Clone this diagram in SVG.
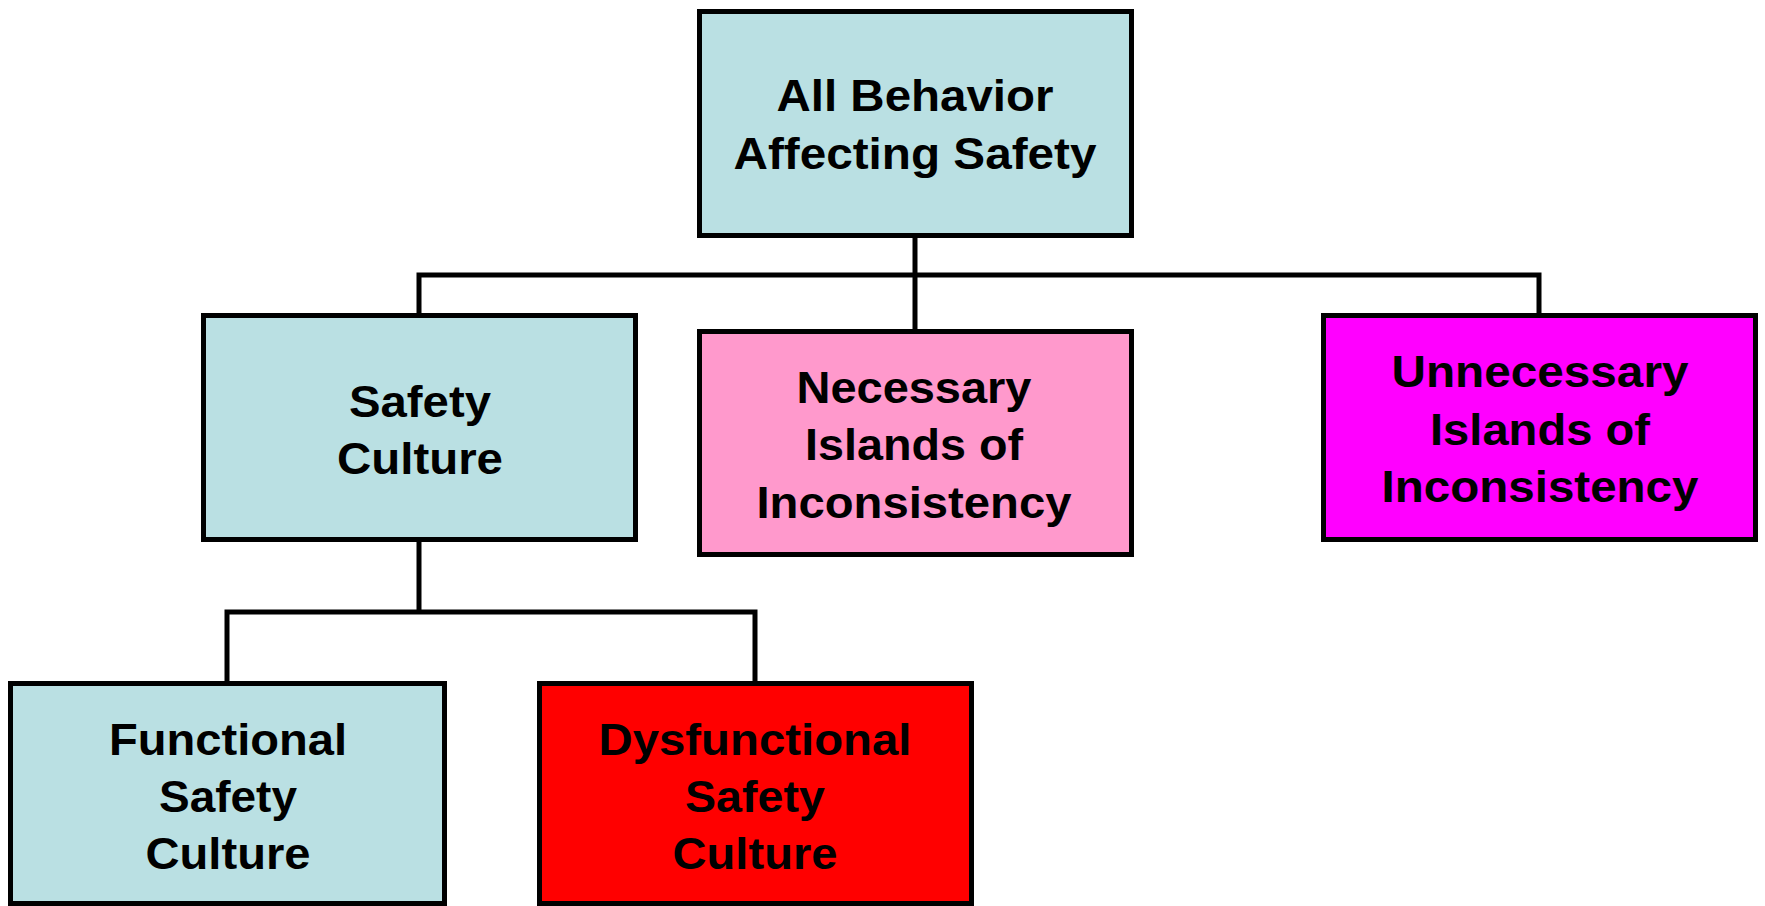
<svg xmlns="http://www.w3.org/2000/svg" width="1765" height="906" viewBox="0 0 1765 906">
  <style>
    .box { stroke: #000; stroke-width: 5; }
    .blue { fill: #BAE0E3; }
    .pink { fill: #FF99CC; }
    .magenta { fill: #FF00FF; }
    .red { fill: #FF0000; }
    .lbl { font-family: "Liberation Sans", Arial, sans-serif; font-weight: bold; font-size: 44px; fill: #000; text-anchor: middle; }
    .wire { fill: none; stroke: #000; stroke-width: 5; }
  </style>
  <rect width="1765" height="906" fill="#fff"/>

  <g id="connectors">
    <path class="wire" d="M915,238 V331"/>
    <path class="wire" d="M419,315 V275 H1539 V315"/>
    <path class="wire" d="M419,540 V612"/>
    <path class="wire" d="M227,683 V612 H755 V683"/>
  </g>

  <g id="all-behavior">
    <rect class="box blue" x="699.5" y="11.5" width="432" height="224"/>
    <text class="lbl" x="915" y="111" textLength="277" lengthAdjust="spacingAndGlyphs">All Behavior</text>
    <text class="lbl" x="915" y="169" textLength="363" lengthAdjust="spacingAndGlyphs">Affecting Safety</text>
  </g>

  <g id="safety-culture">
    <rect class="box blue" x="203.5" y="315.5" width="432" height="224"/>
    <text class="lbl" x="420" y="417" textLength="142" lengthAdjust="spacingAndGlyphs">Safety</text>
    <text class="lbl" x="420" y="474" textLength="166" lengthAdjust="spacingAndGlyphs">Culture</text>
  </g>

  <g id="necessary-islands">
    <rect class="box pink" x="699.5" y="331.5" width="432" height="223"/>
    <text class="lbl" x="914" y="403" textLength="235" lengthAdjust="spacingAndGlyphs">Necessary</text>
    <text class="lbl" x="914" y="460" textLength="218" lengthAdjust="spacingAndGlyphs">Islands of</text>
    <text class="lbl" x="914" y="518" textLength="315" lengthAdjust="spacingAndGlyphs">Inconsistency</text>
  </g>

  <g id="unnecessary-islands">
    <rect class="box magenta" x="1323.5" y="315.5" width="432" height="224"/>
    <text class="lbl" x="1540" y="387" textLength="297" lengthAdjust="spacingAndGlyphs">Unnecessary</text>
    <text class="lbl" x="1540" y="445" textLength="220" lengthAdjust="spacingAndGlyphs">Islands of</text>
    <text class="lbl" x="1540" y="502" textLength="317" lengthAdjust="spacingAndGlyphs">Inconsistency</text>
  </g>

  <g id="functional">
    <rect class="box blue" x="10.5" y="683.5" width="434" height="220"/>
    <text class="lbl" x="228" y="755" textLength="238" lengthAdjust="spacingAndGlyphs">Functional</text>
    <text class="lbl" x="228" y="812" textLength="138" lengthAdjust="spacingAndGlyphs">Safety</text>
    <text class="lbl" x="228" y="869" textLength="165" lengthAdjust="spacingAndGlyphs">Culture</text>
  </g>

  <g id="dysfunctional">
    <rect class="box red" x="539.5" y="683.5" width="432" height="220"/>
    <text class="lbl" x="755" y="755" textLength="313" lengthAdjust="spacingAndGlyphs">Dysfunctional</text>
    <text class="lbl" x="755" y="812" textLength="140" lengthAdjust="spacingAndGlyphs">Safety</text>
    <text class="lbl" x="755" y="869" textLength="165" lengthAdjust="spacingAndGlyphs">Culture</text>
  </g>
</svg>
